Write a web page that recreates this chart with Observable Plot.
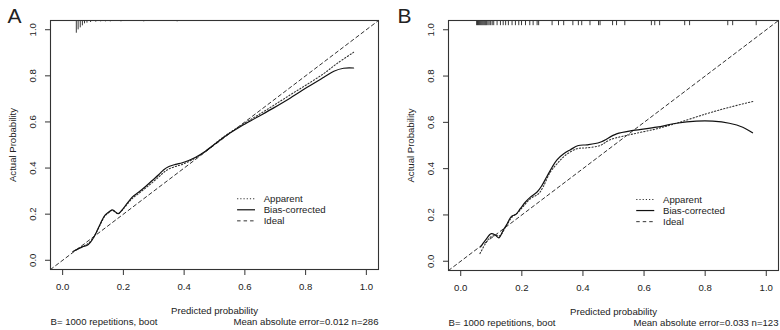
<!DOCTYPE html>
<html><head><meta charset="utf-8">
<script src="https://cdn.jsdelivr.net/npm/d3@7"></script>
<script src="https://cdn.jsdelivr.net/npm/@observablehq/plot@0.6"></script>
<style>
body{margin:0;background:#fff;}
#wrap{display:flex;width:780px;height:330px;background:#fff;}
</style></head><body><div id="wrap"></div>
<script>
// ---------- data ----------
const xTicks = [0, 0.2, 0.4, 0.6, 0.8, 1.0];
const yTicks = [0, 0.2, 0.4, 0.6, 0.8, 1.0];
const legendLabels = ["Apparent", "Bias-corrected", "Ideal"];
const panelLabels = ["A", "B"];
const captionLeft = ["B= 1000 repetitions, boot", "B= 1000 repetitions, boot"];
const captionRight = ["Mean absolute error=0.012 n=286", "Mean absolute error=0.033 n=123"];
const xTitle = "Predicted probability";
const yTitle = "Actual Probability";

// Panel A
const aBiasX = [0.037,0.065,0.081,0.092,0.103,0.114,0.125,0.139,0.152,0.163,0.172,0.183,0.196,0.213,0.229,0.251,0.273,0.295,0.317,0.333,0.350,0.372,0.394,0.415,0.438,0.470,0.531,0.586,0.640,0.695,0.750,0.805,0.860,0.893,0.925,0.958];
const aBiasY = [0.040,0.058,0.065,0.079,0.101,0.130,0.161,0.195,0.209,0.219,0.212,0.202,0.219,0.248,0.274,0.296,0.320,0.346,0.372,0.393,0.407,0.416,0.423,0.433,0.447,0.473,0.534,0.580,0.620,0.661,0.704,0.750,0.794,0.820,0.833,0.834];
const aAppX = [0.033,0.065,0.081,0.092,0.103,0.114,0.125,0.139,0.152,0.163,0.172,0.183,0.196,0.213,0.229,0.251,0.273,0.295,0.317,0.333,0.350,0.372,0.394,0.415,0.438,0.470,0.531,0.586,0.640,0.695,0.750,0.805,0.860,0.904,0.958];
const aAppY = [0.037,0.060,0.070,0.083,0.102,0.128,0.158,0.192,0.207,0.217,0.210,0.203,0.217,0.244,0.268,0.290,0.313,0.337,0.362,0.381,0.396,0.407,0.416,0.428,0.444,0.472,0.536,0.584,0.627,0.672,0.718,0.763,0.810,0.854,0.902];
const aRugX = [0.045,0.051,0.058,0.065,0.072,0.080,0.092,0.109,0.125,0.141,0.157,0.192,0.267,0.377];
const aRugN = [38,28,22,16,10,8,6,5,4,4,4,4,4,4];

// Panel B
const bBiasX = [0.065,0.081,0.100,0.114,0.125,0.139,0.152,0.166,0.181,0.195,0.212,0.228,0.250,0.266,0.282,0.299,0.315,0.337,0.358,0.385,0.413,0.456,0.510,0.565,0.641,0.706,0.771,0.825,0.879,0.923,0.955];
const bBiasY = [0.062,0.091,0.119,0.112,0.101,0.134,0.162,0.194,0.203,0.227,0.256,0.277,0.299,0.328,0.366,0.406,0.438,0.464,0.481,0.500,0.503,0.514,0.550,0.565,0.579,0.596,0.605,0.605,0.596,0.579,0.555];
const bAppX = [0.063,0.081,0.098,0.117,0.128,0.147,0.168,0.185,0.228,0.255,0.270,0.293,0.315,0.342,0.380,0.413,0.456,0.489,0.565,0.641,0.706,0.804,0.879,0.959];
const bAppY = [0.033,0.076,0.105,0.112,0.110,0.148,0.191,0.208,0.270,0.292,0.322,0.385,0.421,0.457,0.486,0.490,0.500,0.525,0.550,0.572,0.596,0.637,0.665,0.691];
const bRugX = [0.052,0.055,0.058,0.061,0.064,0.067,0.070,0.073,0.076,0.079,0.082,0.085,0.089,0.093,0.098,0.103,0.108,0.119,0.130,0.139,0.147,0.156,0.168,0.179,0.190,0.199,0.212,0.226,0.237,0.250,0.255,0.299,0.320,0.337,0.367,0.385,0.396,0.423,0.451,0.456,0.497,0.510,0.537,0.624,0.635,0.651,0.733,0.749,0.874,0.890,0.967];
const bRugN = bRugX.map(() => 16);

// ---------- drawing ----------
const DOMAIN = [-0.04, 1.04];
const FONT = "'Liberation Sans', Arial, Helvetica, sans-serif";
const INK = "#222";
const fmt = d3.format(".1f");

function pts(xs, ys) { return xs.map((x, i) => ({x, y: ys[i]})); }

function panel(p) {
  const rug = p.rugX.map((x, i) => ({x, n: p.rugN[i]}));
  const LX0 = 0.576, LX1 = 0.635, LXT = 0.662, LY0 = 0.267, LDY = 0.048;
  const styles = [
    {dash: "1.2,2", w: 1.1, c: "#333"},
    {dash: null, w: 1.2, c: "#111"},
    {dash: "3.5,3", w: 1, c: "#333"}
  ];
  return Plot.plot({
    width: 390, height: 330,
    marginLeft: p.ml, marginRight: p.mr, marginTop: 20, marginBottom: p.mb,
    x: {domain: DOMAIN}, y: {domain: DOMAIN},
    style: {fontFamily: FONT, fontSize: "9.6px", background: "#fff", color: INK, overflow: "visible"},
    marks: [
      Plot.axisX({ticks: xTicks, tickSize: 6, tickPadding: 7.5, tickFormat: fmt, label: null, stroke: "#333", fill: INK}),
      Plot.axisY({ticks: yTicks, tickSize: 5, tickFormat: () => "", label: null, stroke: "#333"}),
      Plot.text(yTicks, {y: d => d, frameAnchor: "left", rotate: -90, dx: -15, lineAnchor: "bottom", textAnchor: "middle", text: fmt, fill: INK}),
      Plot.text([yTitle], {frameAnchor: "left", rotate: -90, dx: -35, lineAnchor: "bottom", textAnchor: "middle", fill: INK}),
      Plot.text([xTitle], {frameAnchor: "bottom", dy: 44, lineAnchor: "bottom", fill: INK}),
      Plot.text([p.capL], {frameAnchor: "bottom-left", dy: 55, lineAnchor: "bottom", textAnchor: "start", fill: INK}),
      Plot.text([p.capR], {frameAnchor: "bottom-right", dy: 55, lineAnchor: "bottom", textAnchor: "end", fill: INK}),
      Plot.text([p.label], {frameAnchor: "top-left", dx: p.labDx, dy: 2, lineAnchor: "bottom", textAnchor: "start", fontSize: 21, fill: INK}),
      // rug
      Plot.ruleX(rug, {x: "x", y1: () => DOMAIN[1], y2: d => DOMAIN[1] - d.n * p.rugUnit, stroke: "#222", strokeWidth: 0.9}),
      // ideal
      Plot.line(DOMAIN.map(v => ({x: v, y: v})), {x: "x", y: "y", stroke: "#333", strokeWidth: 1, strokeDasharray: styles[2].dash}),
      // apparent
      Plot.line(pts(p.appX, p.appY), {x: "x", y: "y", stroke: styles[0].c, strokeWidth: styles[0].w, strokeDasharray: styles[0].dash, curve: "catmull-rom"}),
      // bias-corrected
      Plot.line(pts(p.biasX, p.biasY), {x: "x", y: "y", stroke: styles[1].c, strokeWidth: styles[1].w, curve: "catmull-rom"}),
      // legend
      ...styles.map((s, i) => Plot.ruleY([LY0 - i * LDY], {y: d => d, x1: () => LX0, x2: () => LX1, stroke: s.c, strokeWidth: s.w, strokeDasharray: s.dash})),
      Plot.text(legendLabels, {x: () => LXT, y: (d, i) => LY0 - i * LDY, text: d => d, textAnchor: "start", lineAnchor: "middle", fill: INK, fontSize: 9.6}),
      Plot.frame({stroke: "#333", strokeWidth: 1.1})
    ]
  });
}

const wrap = document.getElementById("wrap");
wrap.append(panel({ml: 50, mr: 12, mb: 61, label: panelLabels[0], labDx: -43, capL: captionLeft[0], capR: captionRight[0],
  biasX: aBiasX, biasY: aBiasY, appX: aAppX, appY: aAppY, rugX: aRugX, rugN: aRugN, rugUnit: 0.00145}));
wrap.append(panel({ml: 58, mr: 2, mb: 60, label: panelLabels[1], labDx: -51, capL: captionLeft[1], capR: captionRight[1],
  biasX: bBiasX, biasY: bBiasY, appX: bAppX, appY: bAppY, rugX: bRugX, rugN: bRugN, rugUnit: 0.0014}));
</script></body></html>
